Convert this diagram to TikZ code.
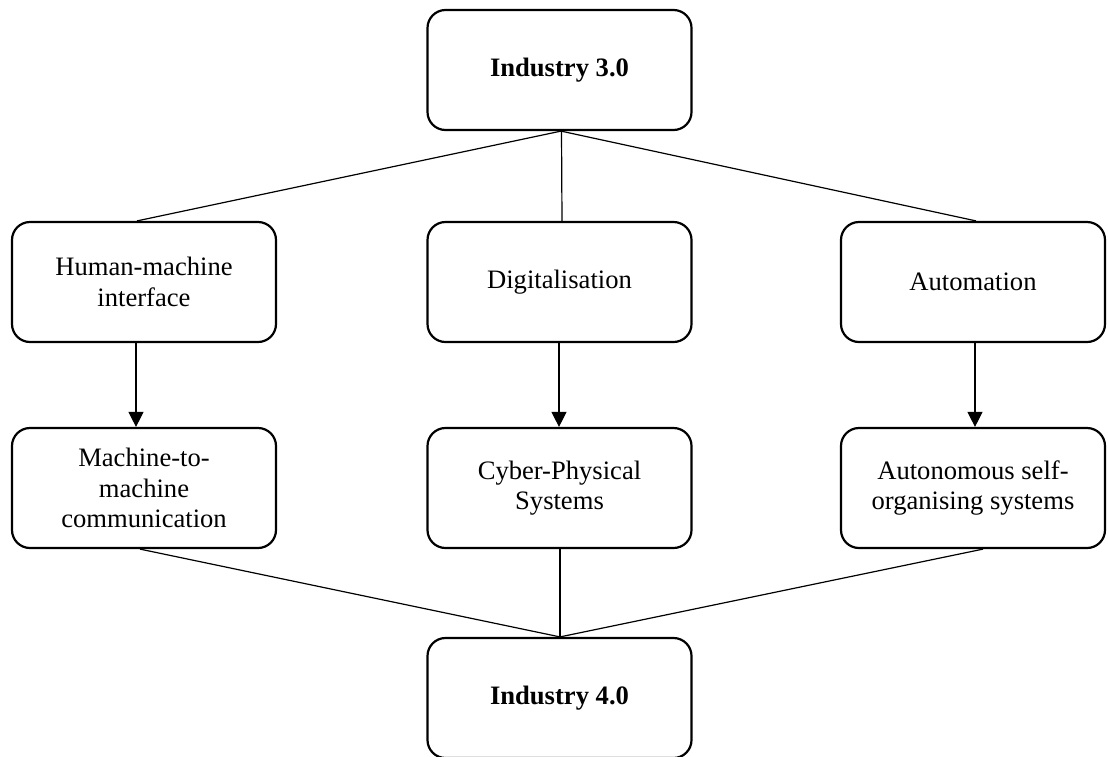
\documentclass[tikz,border=0pt]{standalone}
\usepackage{fontspec}
\setmainfont{Liberation Serif}
\usetikzlibrary{arrows.meta}
\begin{document}
\begin{tikzpicture}[x=1pt,y=-1pt,
  box/.style={draw=black, line width=2.2pt, rounded corners=18pt,
    minimum width=264pt, minimum height=120pt, align=center,
    inner sep=0pt, font=\fontsize{26.6}{30.6}\selectfont},
  link/.style={draw=black, line width=1.2pt},
  arr/.style={link, -{Triangle[length=15pt,width=15pt]}}]
  \useasboundingbox (0,0) rectangle (1108,756);

  % levels
  \node[box] (T)  at (559.5,70)  {\textbf{Industry 3.0}};
  \node[box] (L2) at (144,282)   {Human-machine\\interface};
  \node[box] (M2) at (559.5,282) {Digitalisation};
  \node[box] (R2) at (973,282)   {Automation};
  \node[box] (L3) at (144,488)   {Machine-to-\\machine\\communication};
  \node[box] (M3) at (559.5,488) {Cyber-Physical\\Systems};
  \node[box] (R3) at (973,488)   {Autonomous self-\\organising systems};
  \node[box] (B)  at (559.5,698) {\textbf{Industry 4.0}};

  % fan-out from Industry 3.0
  \draw[link] ([xshift=1.5pt]T.south) -- ([xshift=-7pt]L2.north);
  \draw[link] ([xshift=2pt]T.south) -- ([xshift=2.5pt]M2.north);
  \draw[link] ([xshift=1.5pt]T.south) -- ([xshift=3pt]R2.north);

  % transitions
  \draw[arr] ([xshift=-8pt]L2.south) -- ([xshift=-8pt]L3.north);
  \draw[arr] ([xshift=-0.5pt]M2.south) -- ([xshift=-0.5pt]M3.north);
  \draw[arr] ([xshift=2pt]R2.south) -- ([xshift=2pt]R3.north);

  % fan-in to Industry 4.0
  \draw[link] ([xshift=-4pt]L3.south) -- ([xshift=0.5pt]B.north);
  \draw[link] ([xshift=0.5pt]M3.south) -- ([xshift=0.5pt]B.north);
  \draw[link] ([xshift=10pt]R3.south) -- ([xshift=0.5pt]B.north);
\end{tikzpicture}
\end{document}
